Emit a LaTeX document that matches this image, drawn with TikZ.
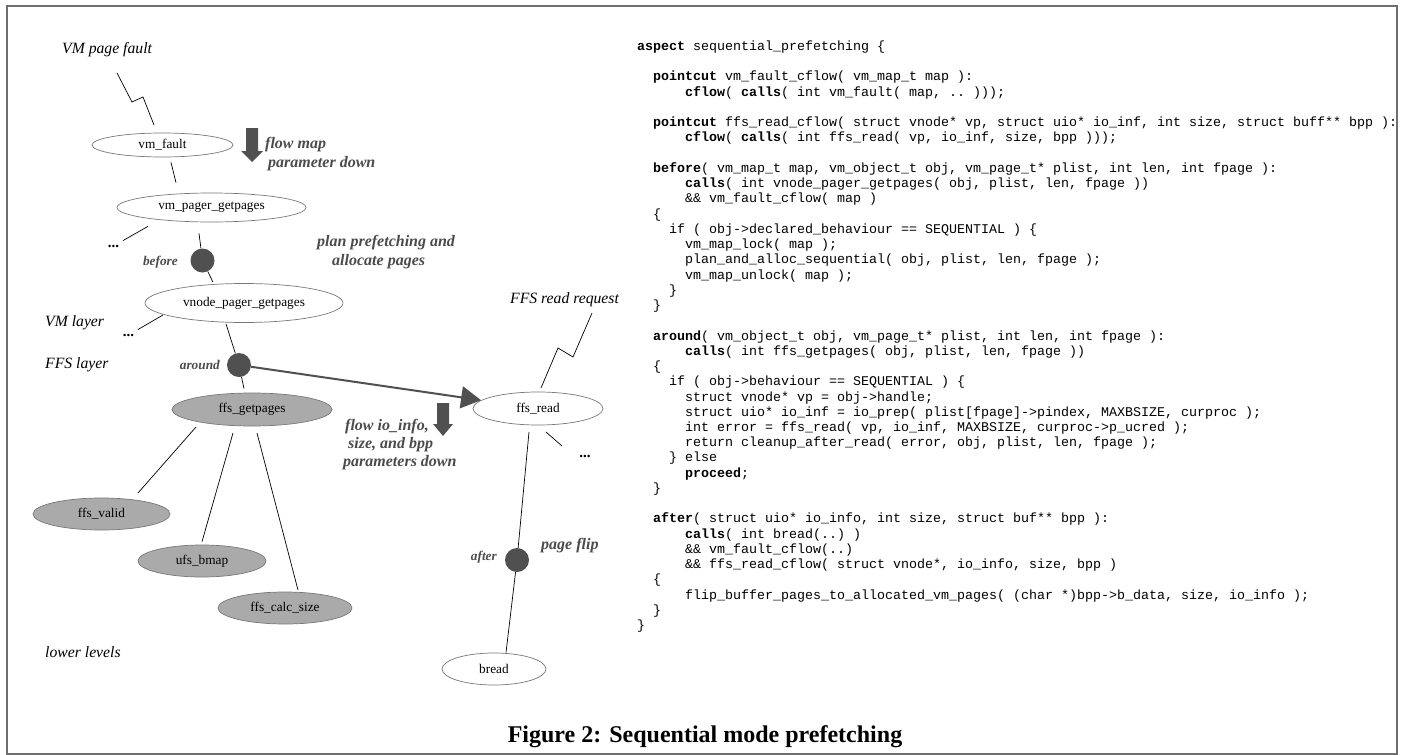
\documentclass[tikz,border=0pt]{standalone}
\usepackage{fontspec}
\usepackage{graphicx}
\setmainfont{Liberation Serif}
\setmonofont{Liberation Mono}
\usetikzlibrary{shapes.geometric,arrows.meta,calc}
\definecolor{framegray}{RGB}{110,110,110}
\definecolor{ellline}{RGB}{120,120,120}
\definecolor{ellfill}{RGB}{170,170,170}
\definecolor{dotfill}{RGB}{80,80,80}
\definecolor{labgray}{RGB}{75,75,75}
\newcommand\codeln[3]{\node[code] (cl#1) at ({637+8*#2},{50.5+15.24*(#1-1)}) {#3};}
\begin{document}
\begin{tikzpicture}[x=1pt,y=-1pt,
  wnode/.style={ellipse, draw=ellline, line width=0.7pt, fill=white, inner sep=0pt, font=\fontsize{13.3}{15}\selectfont},
  gnode/.style={wnode, fill=ellfill},
  jp/.style={circle, fill=dotfill, minimum size=24pt, inner sep=0pt},
  conn/.style={draw=black, line width=0.7pt},
  ital/.style={font=\fontsize{15.7}{18}\selectfont\itshape, inner sep=0pt, anchor=west},
  note/.style={font=\fontsize{16}{18}\selectfont\bfseries\itshape, text=labgray, inner sep=0pt, anchor=west},
  jlabel/.style={font=\fontsize{13.3}{15}\selectfont\bfseries\itshape, text=labgray, inner sep=0pt, anchor=east},
  code/.style={font=\fontsize{13.333}{15}\selectfont\ttfamily\frenchspacing, anchor=base west, inner sep=0pt},
  dots/.style={font=\fontsize{15}{16}\selectfont\bfseries, inner sep=4pt},
  bigarrow/.style={draw=dotfill, fill=dotfill, line width=2pt, -{Triangle[length=20pt,width=22pt]}}
]
\useasboundingbox (0,0) rectangle (1403,755);
\draw[framegray, line width=2pt] (7,6) rectangle (1397,754);

% ---- left graph ----
\node[wnode, minimum width=141pt, minimum height=24pt] (vmfault) at (162.5,145) {vm\_fault};
\node[wnode, minimum width=189pt, minimum height=29pt] (vmpager) at (211.5,207.5) {vm\_pager\_getpages};
\node[wnode, minimum width=198pt, minimum height=39pt] (vnode) at (244,303) {vnode\_pager\_getpages};
\node[gnode, minimum width=160pt, minimum height=33pt] (ffsget) at (252,409.5) {ffs\_getpages};
\node[gnode, minimum width=137pt, minimum height=32pt] (ffsvalid) at (101.5,514) {ffs\_valid};
\node[gnode, minimum width=128pt, minimum height=32pt] (ufsbmap) at (202,561) {ufs\_bmap};
\node[gnode, minimum width=134pt, minimum height=32pt] (ffscalc) at (285,608) {ffs\_calc\_size};
\node[wnode, minimum width=130pt, minimum height=33pt] (ffsread) at (538,408.5) {ffs\_read};
\node[wnode, minimum width=104pt, minimum height=32pt] (bread) at (494,669) {bread};

\node[jp] (before) at (202.5,260.5) {};
\node[jp] (around) at (239,365) {};
\node[jp] (after) at (517,560) {};

\node[dots] (dots1) at (113.5,246) {...};
\node[dots] (dots2) at (128.5,335) {...};
\node[dots] (dots3) at (585,456) {...};

% lightning bolts
\coordinate (la1) at (117,73);
\coordinate (la2) at (132,102);
\coordinate (la3) at (143,97);
\coordinate (la4) at (154,125);
\draw[conn] (la1) -- (la2) -- (la3) -- (la4);
\coordinate (lb1) at (592,313);
\coordinate (lb2) at (573,357);
\coordinate (lb3) at (558,348);
\coordinate (lb4) at (541,388);
\draw[conn] (lb1) -- (lb2) -- (lb3) -- (lb4);

% connectors
\draw[conn] ($(vmfault.south)+(8.5,5)$) -- ($(vmpager.north)+(-35.5,-10)$);
\draw[conn] ($(vmpager.south)+(-63.5,4)$) -- (dots1);
\draw[conn] ($(vmpager.south)+(-12.5,11)$) -- (before);
\draw[conn] (before) -- ($(vnode.north)+(-31,-1)$);
\draw[conn] ($(vnode.center)+(-81,12)$) -- (dots2);
\draw[conn] ($(vnode.south)+(-18,1)$) -- (around);
\draw[conn] (around) -- ($(ffsget.north)+(-8,-4)$);
\draw[conn] ($(ffsget.center)+(-56,17.5)$) -- ($(ffsvalid.center)+(36.5,-21)$);
\draw[conn] ($(ffsget.center)+(-19,23.5)$) -- ($(ufsbmap.north)+(0,-3)$);
\draw[conn] ($(ffsget.center)+(5,23.5)$) -- ($(ffscalc.center)+(13,-18)$);
\draw[conn] ($(ffsread.center)+(8,23.5)$) -- ($(dots3.center)+(-23,-10)$);
\draw[conn] ($(ffsread.center)+(-9,23.5)$) -- (after);
\draw[conn] (after) -- ($(bread.north)+(12,0)$);
\draw[bigarrow] (around) -- (ffsread);

% block arrows
\fill[dotfill] (246,128) -- (258,128) -- (258,151) -- (263,151) -- (252,162) -- (241,151) -- (246,151) -- cycle;
\fill[dotfill] (437,403) -- (449,403) -- (449,424) -- (453,424) -- (443,436) -- (433,424) -- (437,424) -- cycle;

% labels
\node[ital] (tvmpf) at (62,50) {VM page fault};
\node[ital] (tvml) at (45,323) {VM layer};
\node[ital] (tffsl) at (45,365) {FFS layer};
\node[ital] (tlow) at (45,652) {lower levels};
\node[ital] (tffsrr) at (510,300) {FFS read request};
\node[note] (tflow1) at (265,145) {flow map};
\node[note] (tflow2) at (268,164) {parameter down};
\node[note] (tplan1) at (317,243) {plan prefetching and};
\node[note] (tplan2) at (332,262) {allocate pages};
\node[note] (tio1) at (345,427) {flow io\_info,};
\node[note] (tio2) at (348,445) {size, and bpp};
\node[note] (tio3) at (343,463) {parameters down};
\node[note] (tflip) at (541,546) {page flip};
\node[jlabel] (tbefore) at (178,262) {before};
\node[jlabel] (taround) at (220,365) {around};
\node[jlabel] (tafter) at (497,557) {after};

% code
\codeln{1}{0}{\textbf{aspect} sequential\_prefetching \{}
\codeln{3}{2}{\textbf{pointcut} vm\_fault\_cflow( vm\_map\_t map ):}
\codeln{4}{6}{\textbf{cflow}( \textbf{calls}( int vm\_fault( map, .. )));}
\codeln{6}{2}{\textbf{pointcut} ffs\_read\_cflow( struct vnode* vp, struct uio* io\_inf, int size, struct buff** bpp ):}
\codeln{7}{6}{\textbf{cflow}( \textbf{calls}( int ffs\_read( vp, io\_inf, size, bpp )));}
\codeln{9}{2}{\textbf{before}( vm\_map\_t map, vm\_object\_t obj, vm\_page\_t* plist, int len, int fpage ):}
\codeln{10}{6}{\textbf{calls}( int vnode\_pager\_getpages( obj, plist, len, fpage ))}
\codeln{11}{6}{\&\& vm\_fault\_cflow( map )}
\codeln{12}{2}{\{}
\codeln{13}{4}{if ( obj->declared\_behaviour == SEQUENTIAL ) \{}
\codeln{14}{6}{vm\_map\_lock( map );}
\codeln{15}{6}{plan\_and\_alloc\_sequential( obj, plist, len, fpage );}
\codeln{16}{6}{vm\_map\_unlock( map );}
\codeln{17}{4}{\}}
\codeln{18}{2}{\}}
\codeln{20}{2}{\textbf{around}( vm\_object\_t obj, vm\_page\_t* plist, int len, int fpage ):}
\codeln{21}{6}{\textbf{calls}( int ffs\_getpages( obj, plist, len, fpage ))}
\codeln{22}{2}{\{}
\codeln{23}{4}{if ( obj->behaviour == SEQUENTIAL ) \{}
\codeln{24}{6}{struct vnode* vp = obj->handle;}
\codeln{25}{6}{struct uio* io\_inf = io\_prep( plist[fpage]->pindex, MAXBSIZE, curproc );}
\codeln{26}{6}{int error = ffs\_read( vp, io\_inf, MAXBSIZE, curproc->p\_ucred );}
\codeln{27}{6}{return cleanup\_after\_read( error, obj, plist, len, fpage );}
\codeln{28}{4}{\} else}
\codeln{29}{6}{\textbf{proceed};}
\codeln{30}{2}{\}}
\codeln{32}{2}{\textbf{after}( struct uio* io\_info, int size, struct buf** bpp ):}
\codeln{33}{6}{\textbf{calls}( int bread(..) )}
\codeln{34}{6}{\&\& vm\_fault\_cflow(..)}
\codeln{35}{6}{\&\& ffs\_read\_cflow( struct vnode*, io\_info, size, bpp )}
\codeln{36}{2}{\{}
\codeln{37}{6}{flip\_buffer\_pages\_to\_allocated\_vm\_pages( (char *)bpp->b\_data, size, io\_info );}
\codeln{38}{2}{\}}
\codeln{39}{0}{\}}

% caption
\node[font=\fontsize{24}{28}\selectfont\bfseries, inner sep=0pt, anchor=base] (caption) at (705,742) {Figure 2: Sequential mode prefetching};
\end{tikzpicture}
\end{document}
